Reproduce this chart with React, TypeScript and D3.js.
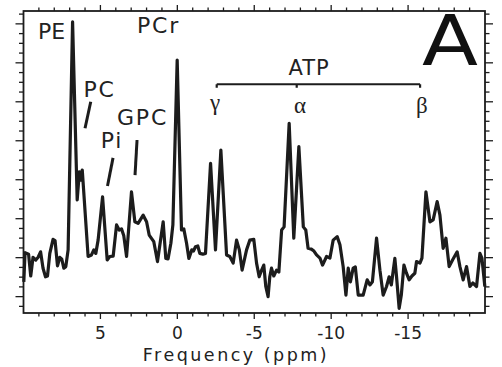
import * as d3 from "d3";

// 31P spectrum (ppm, arbitrary intensity)
const ppm = [
  9.98, 9.9, 9.67, 9.53, 9.38, 9.2, 9.05, 8.89, 8.73, 8.57, 8.44, 8.29, 8.08, 7.95, 7.79, 7.64, 7.51,
  7.38, 7.25, 7.1, 6.81, 6.51, 6.37, 6.27, 6.18, 5.8, 5.58, 5.43, 5.3, 5.15, 4.86, 4.56, 4.39, 4.17,
  3.95, 3.78, 3.63, 3.48, 3.3, 2.98, 2.76, 2.55, 2.22, 2.0, 1.83, 1.53, 1.29, 0.92, 0.75, 0.6, 0.42,
  0.29, 0.01, -0.27, -0.42, -0.6, -0.75, -0.94, -1.05, -1.18, -1.33, -1.46, -1.66, -1.83, -2.16,
  -2.48, -2.83, -3.2, -3.41, -3.63, -3.85, -4.03, -4.21, -4.5, -4.71, -4.97, -5.15, -5.32, -5.46,
  -5.62, -5.75, -5.9, -6.01, -6.12, -6.27, -6.45, -6.6, -6.78, -6.94, -7.27, -7.57, -7.9, -8.19,
  -8.35, -8.5, -8.71, -8.88, -9.05, -9.27, -9.44, -9.7, -9.92, -10.13, -10.39, -10.57, -10.78,
  -10.96, -11.11, -11.25, -11.43, -11.57, -11.76, -12.08, -12.34, -12.52, -12.68, -12.95, -13.17,
  -13.38, -13.6, -13.77, -13.91, -14.14, -14.25, -14.42, -14.56, -14.73, -14.89, -15.07, -15.25,
  -15.44, -15.55, -15.77, -15.9, -16.16, -16.42, -16.63, -16.89, -17.07, -17.28, -17.46, -17.67,
  -17.89, -18.19, -18.37, -18.58, -18.8, -19.02, -19.21, -19.45, -19.67, -19.8, -19.99,
];
const intensity = [
  0.38, 1.13, 1.09, 0.53, 1.01, 0.94, 1.01, 1.15, 0.73, 0.51, 0.53, 1.11, 1.47, 1.44, 0.79, 1.01, 0.96,
  0.73, 0.77, 1.2, 7.05, 2.48, 3.2, 2.99, 3.25, 1.03, 1.07, 1.2, 1.11, 1.45, 2.56, 0.94, 1.03, 1.04,
  1.84, 1.71, 1.74, 1.56, 1.03, 2.69, 1.92, 1.88, 2.09, 1.92, 1.58, 1.41, 0.9, 1.92, 0.98, 0.97, 1.37,
  1.84, 6.07, 1.71, 1.74, 1.37, 0.98, 1.2, 1.17, 1.28, 1.3, 1.11, 1.09, 1.11, 3.42,
  1.2, 3.76, 1.07, 1.03, 0.86, 1.45, 1.2, 0.68, 1.2, 1.45, 1.47, 0.86, 0.51, 0.66,
  0.81, 0.26, 0.0, 0.51, 0.73, 0.53, 0.68, 0.63, 1.71, 1.79, 4.45, 1.5, 3.85, 1.79,
  1.71, 1.24, 1.22, 1.17, 1.07, 0.99, 0.81, 1.03, 0.99, 1.45, 1.54, 1.33, 0.77,
  0.04, 0.73, 0.38, 0.73, 0.76, 0.04, 0.04, 0.43, 0.3, 0.38, 1.5, 0.68,
  0.04, 0.26, 0.51, 0.3, 0.98, 0.51, -0.3, 0.04, 0.81, 0.61, 0.43, 0.53,
  0.6, 0.9, 0.86, 0.99, 2.69, 1.92, 1.97, 2.44, 2.09, 1.24, 1.5, 0.77,
  0.94, 1.15, 0.77, 0.43, 0.77, 0.26, 0.35, 0.26, 1.11, 0.99, 0.26,
];

const xTickLabels = [5, 0, -5, -10, -15];
const peakNames = ["PE", "PCr", "PC", "Pi", "GPC"];
const atpNames = ["γ", "α", "β"];

// annotation anchors in data units
const peakLabelAt: [number, number][] = [
  [8.18, 6.61],
  [1.22, 6.76],
  [5.06, 5.12],
  [4.25, 3.81],
  [2.26, 4.4],
];
const pointerLines: [number, number, number, number][] = [
  [5.63, 5.0, 6.0, 4.32],
  [4.18, 3.56, 4.54, 2.84],
  [2.62, 4.02, 2.75, 3.12],
];
const atpTicks = [-2.56, -7.76, -15.78];
const atpLabelAt = [-2.45, -7.98, -15.9];

const W = 502;
const H = 367;
const box = { left: 23.5, right: 485, top: 11, bottom: 313 };
const ink = "#1c1c1c";
const sans = "'DejaVu Sans', sans-serif";

export default function App() {
  const x = d3.scaleLinear().domain([10, -20]).range([box.left, box.right]);
  const y = d3.scaleLinear().domain([-0.42, 7.33]).range([box.bottom, box.top]);

  const pts = ppm.map((p, i) => [p, intensity[i]] as [number, number]);
  const line = d3
    .line<[number, number]>()
    .x(d => x(d[0]))
    .y(d => y(d[1]));

  const xMinor = d3.range(9, -20, -1);
  const yMinor = d3.range(-0.25, 7.3, 0.25);
  const bracketY = y(5.45);

  return (
    <svg
      width={W}
      height={H}
      style={{ position: "absolute", left: 0, top: 0, background: "#fff" }}
    >
      {/* x ticks, bottom and top, outward */}
      {xMinor.map(v => {
        const major = v % 5 === 0;
        const len = major ? 6 : 3.5;
        return (
          <g key={"xt" + v} stroke={ink} strokeWidth={1.3}>
            <line x1={x(v)} x2={x(v)} y1={box.bottom} y2={box.bottom + len} />
            <line x1={x(v)} x2={x(v)} y1={box.top} y2={box.top - len} />
          </g>
        );
      })}
      {/* y ticks, left and right, outward */}
      {yMinor.map(v => {
        const major = Math.abs(v - Math.round(v)) < 1e-6;
        const len = major ? 8 : 4.5;
        return (
          <g key={"yt" + v} stroke={ink} strokeWidth={1.3}>
            <line x1={box.left} x2={box.left - len} y1={y(v)} y2={y(v)} />
            <line x1={box.right} x2={box.right + len} y1={y(v)} y2={y(v)} />
          </g>
        );
      })}

      <rect
        x={box.left}
        y={box.top}
        width={box.right - box.left}
        height={box.bottom - box.top}
        fill="none"
        stroke={ink}
        strokeWidth={1.8}
      />

      <path
        d={line(pts) ?? ""}
        fill="none"
        stroke={ink}
        strokeWidth={3.2}
        strokeLinejoin="round"
      />

      {xTickLabels.map(v => (
        <text
          key={"xl" + v}
          x={x(v)}
          y={339}
          textAnchor="middle"
          fontFamily={sans}
          fontSize={17}
          fill="#222"
        >
          {v}
        </text>
      ))}
      <text
        x={236}
        y={361}
        textAnchor="middle"
        fontFamily={sans}
        fontSize={17.5}
        letterSpacing={2.5}
        fill="#222"
      >
        Frequency (ppm)
      </text>

      {peakNames.map((n, i) => (
        <text
          key={n}
          x={x(peakLabelAt[i][0])}
          y={y(peakLabelAt[i][1])}
          textAnchor="middle"
          fontFamily={sans}
          fontSize={22}
          letterSpacing={n === "PE" ? 0 : 1.8}
          fill="#222"
        >
          {n}
        </text>
      ))}
      {pointerLines.map((l, i) => (
        <line
          key={"pl" + i}
          x1={x(l[0])}
          y1={y(l[1])}
          x2={x(l[2])}
          y2={y(l[3])}
          stroke={ink}
          strokeWidth={3}
        />
      ))}

      {/* ATP bracket */}
      <line
        x1={x(atpTicks[0])}
        x2={x(atpTicks[2])}
        y1={bracketY}
        y2={bracketY}
        stroke={ink}
        strokeWidth={2.2}
      />
      {atpTicks.map(t => (
        <line
          key={"at" + t}
          x1={x(t)}
          x2={x(t)}
          y1={bracketY}
          y2={bracketY + 3.5}
          stroke={ink}
          strokeWidth={2.2}
        />
      ))}
      <text
        x={x(-8.56)}
        y={y(5.68)}
        textAnchor="middle"
        fontFamily={sans}
        fontSize={21}
        letterSpacing={1}
        fill="#222"
      >
        ATP
      </text>
      {atpNames.map((n, i) => (
        <text
          key={n}
          x={x(atpLabelAt[i])}
          y={i === 0 ? y(4.79) : y(4.71)}
          textAnchor="middle"
          fontFamily="'Liberation Serif', serif"
          fontSize={23}
          fill="#222"
        >
          {n}
        </text>
      ))}

      <text
        x={450}
        y={65}
        textAnchor="middle"
        fontFamily={sans}
        fontSize={70}
        textLength={56}
        lengthAdjust="spacingAndGlyphs"
        fill="#111"
      >
        A
      </text>
    </svg>
  );
}
